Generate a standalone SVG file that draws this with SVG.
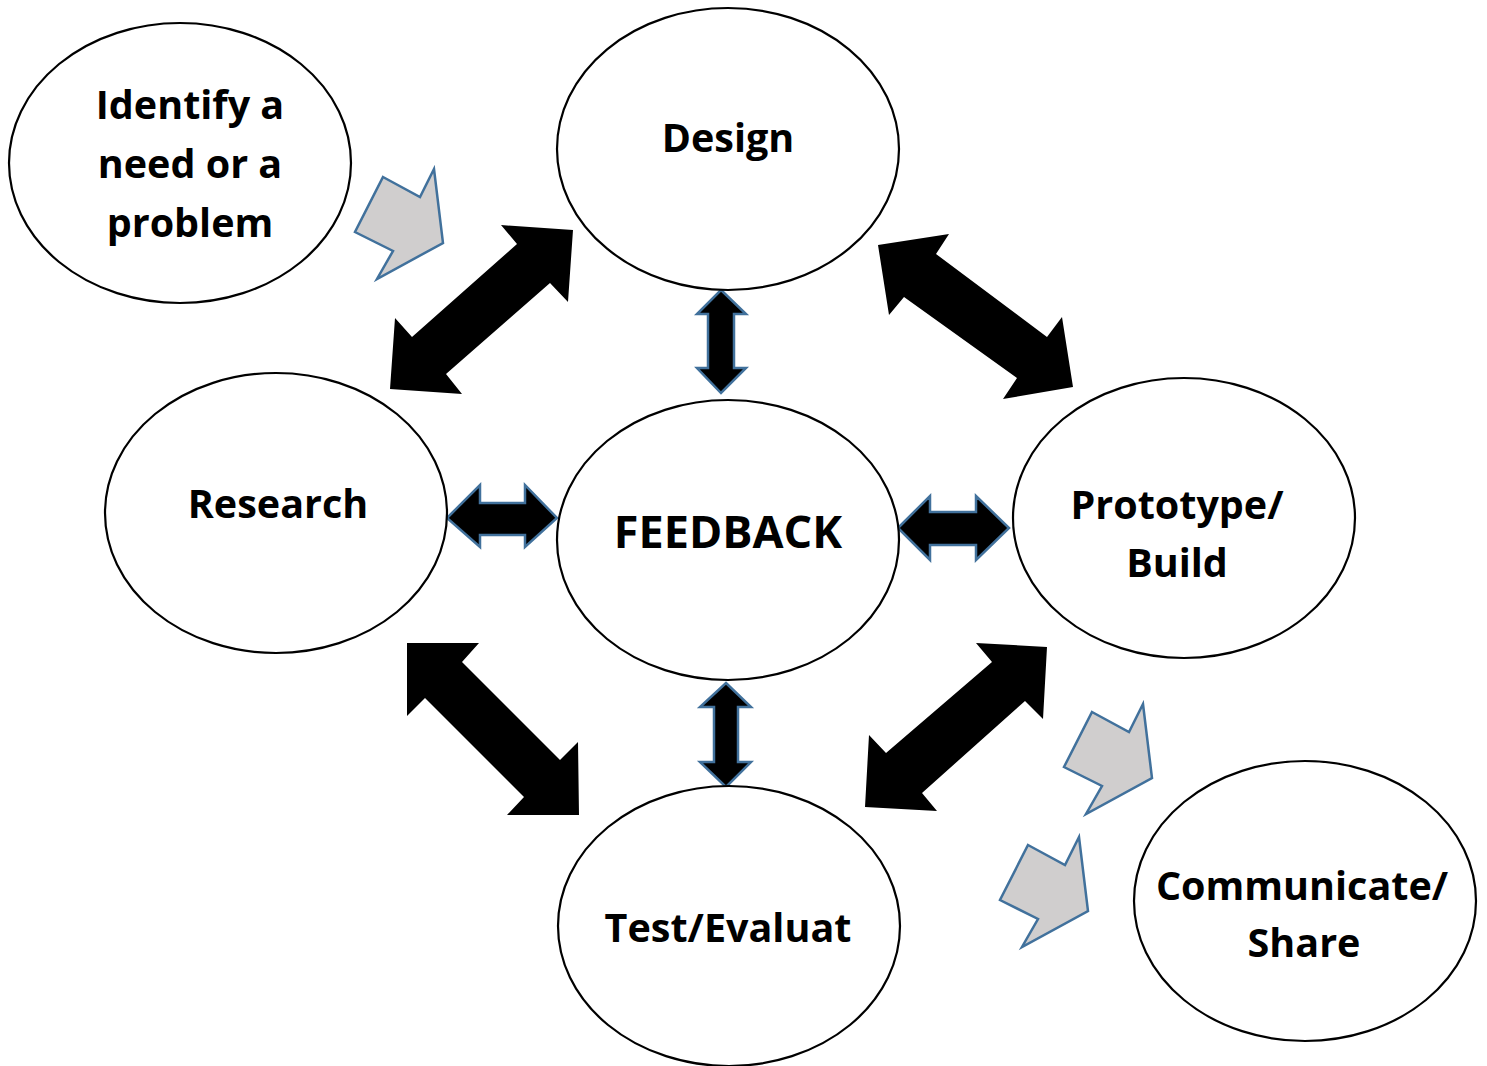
<svg xmlns="http://www.w3.org/2000/svg" width="1487" height="1066" viewBox="0 0 1487 1066">
  <style>
    .node ellipse { fill: #ffffff; stroke: #000000; stroke-width: 2.2; }
    .label { font-family: "Open Sans", "Liberation Sans", sans-serif; font-weight: 700; font-size: 39.5px; fill: #000000; text-anchor: middle; }
    .big { font-size: 45px; }
    .thick { fill: #000000; }
    .thin { fill: #000000; stroke: #41719C; stroke-width: 2.5; stroke-linejoin: miter; }
    .step { fill: #D0CECE; stroke: #41719C; stroke-width: 2.5; stroke-linejoin: miter; }
  </style>
  <defs>
    <polygon id="stepArrow" points="0,0 37,20 51,-8 60,66 -6,102 10,74 -28,55"/>
  </defs>
  <rect width="1487" height="1066" fill="#ffffff"/>

  <g id="connectors">
    <!-- heavy two-way arrows around the loop -->
    <polygon class="thick" points="501,225 573,230 568,302 550,283 446,374 462,394 390,389 395,318 412,337 517,244"/>
    <polygon class="thick" points="878,245 949,234 936,254 1047,337 1062,317 1073,387 1003,399 1017,378 904,297 889,315"/>
    <polygon class="thick" points="407,643 479,643 462,662 560,760 578,742 579,815 507,815 524,797 425,698 407,716"/>
    <polygon class="thick" points="976,643 1047,647 1043,719 1025,701 922,793 937,811 865,807 869,735 886,753 992,662"/>
    <!-- feedback links -->
    <polygon class="thin" points="721,290 746,314 734,314 734,368 746,368 721,393 697,368 708,368 708,314 697,314"/>
    <polygon class="thin" points="726,683 751,707 738,707 738,762 751,762 726,787 700,762 714,762 714,707 700,707"/>
    <polygon class="thin" points="447,518 480,485 480,503 525,503 525,485 557,518 525,547 525,535 480,535 480,547"/>
    <polygon class="thin" points="898,528 930,496 930,512 976,512 976,496 1009,528 976,560 976,545 930,545 930,560"/>
    <!-- entry and exit steps -->
    <use href="#stepArrow" class="step" transform="translate(383,177)"/>
    <use href="#stepArrow" class="step" transform="translate(1092,712)"/>
    <use href="#stepArrow" class="step" transform="translate(1028,845)"/>
  </g>

  <g id="identify" class="node">
    <ellipse cx="180" cy="163" rx="171" ry="140"/>
    <text class="label" x="190" y="119">Identify a</text>
    <text class="label" x="190" y="178">need or a</text>
    <text class="label" x="190" y="237">problem</text>
  </g>
  <g id="design" class="node">
    <ellipse cx="728" cy="149" rx="171" ry="141"/>
    <text class="label" x="728" y="152">Design</text>
  </g>
  <g id="research" class="node">
    <ellipse cx="276" cy="513" rx="171" ry="140"/>
    <text class="label" x="278" y="518">Research</text>
  </g>
  <g id="feedback" class="node">
    <ellipse cx="728" cy="540" rx="171" ry="140"/>
    <text class="label big" x="728" y="548">FEEDBACK</text>
  </g>
  <g id="prototype" class="node">
    <ellipse cx="1184" cy="518" rx="171" ry="140"/>
    <text class="label" x="1177" y="519">Prototype/</text>
    <text class="label" x="1177" y="577">Build</text>
  </g>
  <g id="test" class="node">
    <ellipse cx="729" cy="926" rx="171" ry="140"/>
    <text class="label" x="728" y="942">Test/Evaluat</text>
  </g>
  <g id="communicate" class="node">
    <ellipse cx="1305" cy="901" rx="171" ry="140"/>
    <text class="label" x="1302" y="900">Communicate/</text>
    <text class="label" x="1304" y="957">Share</text>
  </g>
</svg>
